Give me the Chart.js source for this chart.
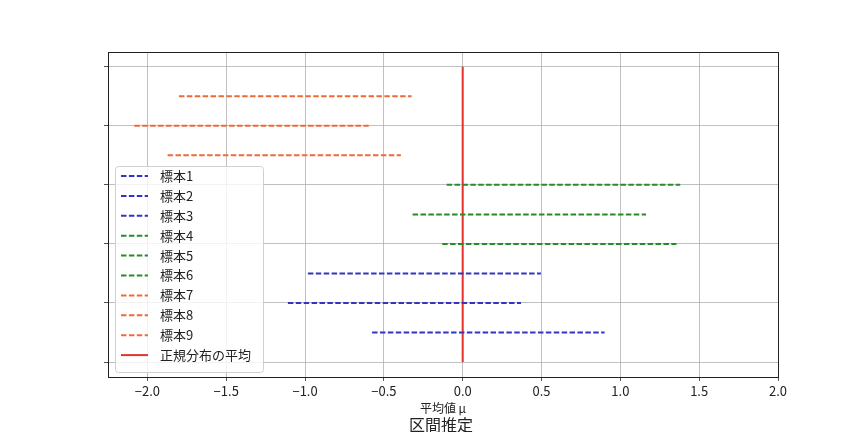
<!DOCTYPE html>
<html>
<head>
<meta charset="utf-8">
<script src="https://cdn.jsdelivr.net/npm/chart.js@4/dist/chart.umd.min.js"></script>
<style>
  html, body { margin: 0; padding: 0; background: #fff; }
  #wrap { width: 864px; height: 432px; }
</style>
</head>
<body>
<div id="wrap"><canvas id="chart"></canvas></div>
<script>
// data
var sampleNames = ['標本1', '標本2', '標本3', '標本4', '標本5', '標本6', '標本7', '標本8', '標本9'];
var rowPos = [1, 2, 3, 4, 5, 6, 7, 8, 9];
var lowerBound = [-0.575, -1.109, -0.982, -0.13, -0.318, -0.102, -1.872, -2.083, -1.80];
var upperBound = [0.90, 0.37, 0.496, 1.356, 1.163, 1.380, -0.392, -0.596, -0.324];
var groupColors = ['#3434c4', '#3434c4', '#3434c4', '#2a8a2a', '#2a8a2a', '#2a8a2a', '#ee6a38', '#ee6a38', '#ee6a38'];
var meanName = '正規分布の平均';
var meanValue = 0;
var meanSpan = [0, 10];
var xTicks = [-2.0, -1.5, -1.0, -0.5, 0.0, 0.5, 1.0, 1.5, 2.0];
var yTicks = [0, 2, 4, 6, 8, 10];

var FONT = "'Noto Sans CJK JP', 'Noto Sans', sans-serif";

var datasets = [];
for (var i = 0; i < sampleNames.length; i++) {
  datasets.push({
    label: sampleNames[i],
    data: [{x: lowerBound[i], y: rowPos[i]}, {x: upperBound[i], y: rowPos[i]}],
    showLine: true,
    borderColor: groupColors[i],
    borderWidth: 2,
    borderDash: [5.5, 2.4],
    pointRadius: 0
  });
}
datasets.push({
  label: meanName,
  data: [{x: meanValue, y: meanSpan[0]}, {x: meanValue, y: meanSpan[1]}],
  showLine: true,
  borderColor: '#e5312c',
  borderWidth: 2,
  pointRadius: 0
});

// box round the plot and a legend inside it, like the original
var framePlugin = {
  id: 'frame',
  afterDatasetsDraw: function(chart) {
    var c = chart.ctx, a = chart.chartArea;
    var x0 = a.left + 7, y0 = 166, w = 148, rowH = 19.9;
    var h = rowH * chart.data.datasets.length + 7;
    c.save();
    c.fillStyle = 'rgba(255,255,255,0.8)';
    c.strokeStyle = '#d0d0d0';
    c.lineWidth = 1;
    c.beginPath();
    c.roundRect(x0 + 0.5, y0 + 0.5, w, h, 3);
    c.fill();
    c.stroke();
    c.font = '13px ' + FONT;
    c.textBaseline = 'middle';
    chart.data.datasets.forEach(function(ds, k) {
      var yy = y0 + 10 + k * rowH;
      c.strokeStyle = ds.borderColor;
      c.lineWidth = ds.borderWidth;
      c.setLineDash(ds.borderDash || []);
      c.beginPath();
      c.moveTo(x0 + 6, yy);
      c.lineTo(x0 + 33, yy);
      c.stroke();
      c.setLineDash([]);
      c.fillStyle = '#222';
      c.fillText(ds.label, x0 + 45, yy);
    });
    c.restore();
  },
  afterDraw: function(chart) {
    var c = chart.ctx, a = chart.chartArea;
    c.save();
    c.strokeStyle = '#222';
    c.lineWidth = 1;
    c.strokeRect(Math.round(a.left) + 0.5, Math.round(a.top) + 0.5,
                 Math.round(a.right - a.left), Math.round(a.bottom - a.top));
    c.restore();
  }
};

var ctx = document.getElementById('chart').getContext('2d');
var chart = new Chart(ctx, {
  type: 'scatter',
  data: { datasets: datasets },
  options: {
    responsive: true,
    maintainAspectRatio: false,
    animation: false,
    layout: { padding: { left: 104, right: 86, top: 52, bottom: -3 } },
    scales: {
      x: {
        type: 'linear',
        min: -2.25,
        max: 2.0,
        afterBuildTicks: function(s) { s.ticks = xTicks.map(function(v) { return {value: v}; }); },
        grid: { color: '#b0b0b0', lineWidth: 0.8, tickLength: 4, tickColor: '#222' },
        border: { display: false },
        ticks: {
          color: '#222',
          padding: 2,
          maxRotation: 0,
          font: { family: FONT, size: 13 },
          callback: function(v) { return v.toFixed(1).replace('-', '\u2212'); }
        },
        title: { display: true, text: '平均値 μ', color: '#222', padding: { top: 1, bottom: 0 },
                 font: { family: FONT, size: 12 } }
      },
      y: {
        type: 'linear',
        min: -0.5,
        max: 10.5,
        afterBuildTicks: function(s) { s.ticks = yTicks.map(function(v) { return {value: v}; }); },
        grid: { color: '#b0b0b0', lineWidth: 0.8, tickLength: 4, tickColor: '#222' },
        border: { display: false },
        ticks: { display: false }
      }
    },
    plugins: {
      legend: { display: false },
      tooltip: { enabled: false },
      title: {
        display: true,
        text: '区間推定',
        position: 'bottom',
        color: '#222',
        padding: { top: 0, bottom: 0 },
        font: { family: FONT, size: 16, weight: 'normal' }
      }
    }
  },
  plugins: [framePlugin]
});
</script>
</body>
</html>
